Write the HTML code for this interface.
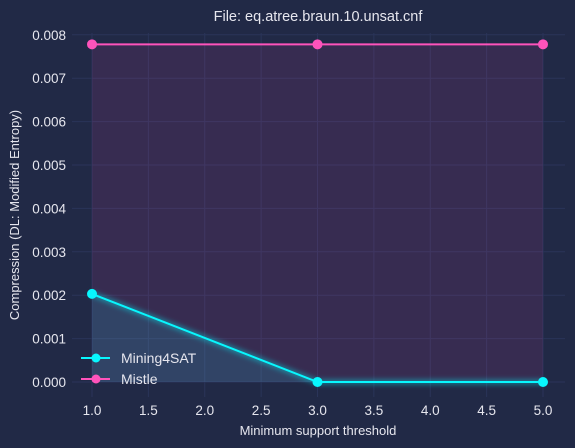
<!DOCTYPE html>
<html><head><meta charset="utf-8"><style>
html,body{margin:0;padding:0;background:#212946;}
svg{display:block;font-family:"Liberation Sans","DejaVu Sans",sans-serif;}
</style></head><body>
<svg id="chart" width="575" height="448">
<rect width="575" height="448" fill="#212946"/>
<defs><filter id="glow" x="-20%" y="-20%" width="140%" height="140%"><feGaussianBlur stdDeviation="2.5"/></filter></defs>
<g id="grid"></g><g id="fills"></g><g id="series"></g><g id="axes"></g>
<text x="318" y="21" text-anchor="middle" font-size="14.5" fill="#e6e6ee">File: eq.atree.braun.10.unsat.cnf</text>
<text x="318" y="435" text-anchor="middle" font-size="13" fill="#e6e6ee">Minimum support threshold</text>
<text transform="translate(19,215) rotate(-90)" text-anchor="middle" font-size="13" fill="#e6e6ee">Compression (DL: Modified Entropy)</text>
<g>
<g><line x1="81" y1="358" x2="110" y2="358" stroke="#08F7FE" stroke-width="2"/><circle cx="96" cy="358" r="4.5" fill="#08F7FE"/><text x="121" y="363" font-size="14" fill="#e6e6ee">Mining4SAT</text></g>
<g><line x1="81" y1="379" x2="110" y2="379" stroke="#FE53BB" stroke-width="2"/><circle cx="96" cy="379" r="4.5" fill="#FE53BB"/><text x="121" y="384" font-size="14" fill="#e6e6ee">Mistle</text></g>
</g>
</svg>
<script>
const xValues=[1.0,3.0,5.0];
const mining4sat=[0.00203,0.0,0.0];
const mistle=[0.00778,0.00778,0.00778];
const xTicks=[1.0,1.5,2.0,2.5,3.0,3.5,4.0,4.5,5.0];
const yTicks=[0,0.001,0.002,0.003,0.004,0.005,0.006,0.007,0.008];
const NS="http://www.w3.org/2000/svg";
const L=72,R=565,T=33,B=397;
function xs(v){return 92+(v-1)*112.75;}
function ys(v){return 382-v*43.4*1000;}
function mk(tag,attrs,parent){const e=document.createElementNS(NS,tag);for(const k in attrs)e.setAttribute(k,attrs[k]);document.getElementById(parent).appendChild(e);return e;}
xTicks.forEach(t=>{
 const g=mk('line',{x1:xs(t),x2:xs(t),y1:T,y2:B,stroke:'#2A3459','stroke-width':1},'grid');
 
 
 const tx=mk('text',{x:xs(t),y:415,'text-anchor':'middle','font-size':13.5,fill:'#e6e6ee'},'axes');
 tx.textContent=t.toFixed(1);
 
 
});
yTicks.forEach(t=>{
 const g=mk('line',{x1:L,x2:R,y1:ys(t),y2:ys(t),stroke:'#2A3459','stroke-width':1},'grid');
 
 
 const tx=mk('text',{x:66,y:ys(t)+5,'text-anchor':'end','font-size':13.5,fill:'#e6e6ee'},'axes');
 tx.textContent=t.toFixed(3);
 
 
});
function draw(vals,color,name,op){
 const pts=xValues.map((x,i)=>xs(x)+','+ys(vals[i])).join(' ');
 const area=mk('polygon',{points:pts+' '+xs(xValues[xValues.length-1])+','+ys(0)+' '+xs(xValues[0])+','+ys(0),fill:color,'fill-opacity':op},'fills');
 
 
 const glow=mk('polyline',{points:pts,fill:'none',stroke:color,'stroke-width':6,'stroke-opacity':0.35,filter:'url(#glow)'},'series');
 
 
 const ln=mk('polyline',{points:pts,fill:'none',stroke:color,'stroke-width':2},'series');
 
 
 xValues.forEach((x,i)=>{
  const c=mk('circle',{cx:xs(x),cy:ys(vals[i]),r:5,fill:color},'series');
  
  
 });
}
draw(mistle,'#FE53BB','mistle',0.1);
draw(mining4sat,'#08F7FE','mining4sat',0.12);
</script>
</body></html>
